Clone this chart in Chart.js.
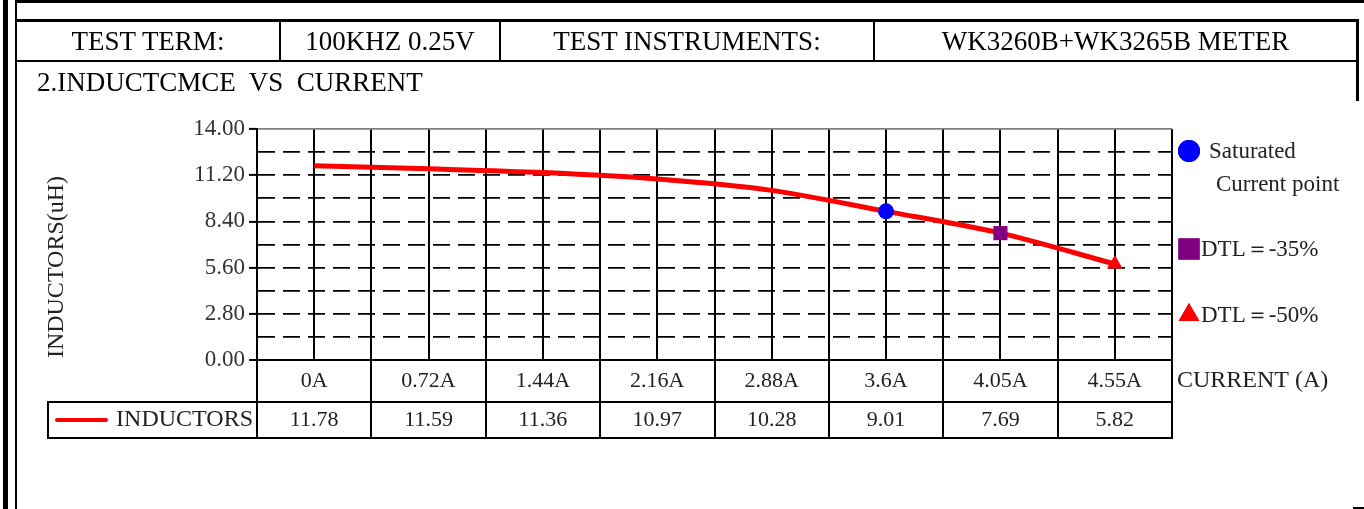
<!DOCTYPE html>
<html>
<head>
<meta charset="utf-8">
<script src="https://cdn.jsdelivr.net/npm/chart.js@4.4.0/dist/chart.umd.min.js"></script>
<style>
body { margin: 0; background: #fff; width: 1364px; height: 509px; overflow: hidden; position: relative; font-family: 'Liberation Serif', 'Times New Roman', serif; color: #000; }
#chart { position: absolute; left: 0; top: 0; }
.bar { position: absolute; background: #000; }
.cell { position: absolute; top: 22px; height: 38px; line-height: 38px; text-align: center; font-size: 27px; white-space: nowrap; }
.title { position: absolute; left: 37px; top: 65px; font-size: 27px; line-height: 34px; white-space: pre; }
</style>
</head>
<body>
<canvas id="chart" width="1364" height="509"></canvas>

<!-- page frame -->
<div class="bar" style="left:3px;top:0;width:5px;height:509px"></div>
<div class="bar" style="left:15px;top:0;width:2px;height:509px"></div>
<div class="bar" style="left:15px;top:0;width:1349px;height:3px"></div>
<div class="bar" style="left:15px;top:19px;width:1344px;height:3px"></div>
<div class="bar" style="left:15px;top:60px;width:1344px;height:2px"></div>
<div class="bar" style="left:1356px;top:19px;width:3px;height:82px"></div>
<div class="bar" style="left:279px;top:19px;width:2px;height:43px"></div>
<div class="bar" style="left:499px;top:19px;width:2px;height:43px"></div>
<div class="bar" style="left:873px;top:19px;width:2px;height:43px"></div>
<div class="bar" style="left:1353px;top:507px;width:11px;height:2px"></div>

<div class="cell" style="left:17px;width:262px">TEST TERM:</div>
<div class="cell" style="left:281px;width:218px">100KHZ 0.25V</div>
<div class="cell" style="left:501px;width:372px">TEST INSTRUMENTS:</div>
<div class="cell" style="left:875px;width:481px">WK3260B+WK3265B METER</div>
<div class="title">2.INDUCTCMCE  VS  CURRENT</div>

<script>
// chart data
const categories = ['0A', '0.72A', '1.44A', '2.16A', '2.88A', '3.6A', '4.05A', '4.55A'];
const inductance = [11.78, 11.59, 11.36, 10.97, 10.28, 9.01, 7.69, 5.82];
const yMin = 0;
const yMax = 14;
const yStep = 1.4;
const markerNames = ['Saturated', 'DTL＝-35%', 'DTL＝-50%'];
const markerAt = ['3.6A', '4.05A', '4.55A'];

const FONT = "'Liberation Serif', 'Times New Roman', serif";
const markerStyles = [
    { pointStyle: 'circle', radius: 8, color: '#0000ff' },
    { pointStyle: 'rect', radius: 10, color: '#800080' },
    { pointStyle: 'triangle', radius: 9, color: '#ff0000' }
];

function markerData(k) {
    return categories.map((c, i) => (c === markerAt[k] ? inductance[i] : null));
}

// table under the plot, axis titles and the side legend
const extrasPlugin = {
    id: 'extras',
    afterDraw(chart) {
        const ctx = chart.ctx;
        const area = chart.chartArea;
        const xScale = chart.scales.x;
        const colW = (area.right - area.left) / categories.length;
        const rowTop = 402, rowBottom = 438;

        ctx.save();
        ctx.strokeStyle = '#000';
        ctx.lineWidth = 2;
        ctx.beginPath();
        for (let i = 0; i <= categories.length; i++) {
            const x = Math.round(area.left + i * colW);
            ctx.moveTo(x, area.bottom);
            ctx.lineTo(x, rowBottom);
        }
        ctx.moveTo(48, rowTop);
        ctx.lineTo(48, rowBottom);
        ctx.moveTo(47, rowTop);
        ctx.lineTo(area.right + 1, rowTop);
        ctx.moveTo(47, rowBottom);
        ctx.lineTo(area.right + 1, rowBottom);
        ctx.stroke();

        // value row
        ctx.fillStyle = '#222';
        ctx.font = '22px ' + FONT;
        ctx.textAlign = 'center';
        ctx.textBaseline = 'middle';
        inductance.forEach((v, i) => {
            ctx.fillText(v.toFixed(2), xScale.getPixelForValue(i), 420);
        });

        // series key
        ctx.strokeStyle = '#ff0000';
        ctx.lineWidth = 4;
        ctx.lineCap = 'round';
        ctx.beginPath();
        ctx.moveTo(57, 420);
        ctx.lineTo(106, 420);
        ctx.stroke();
        ctx.fillStyle = '#222';
        ctx.font = '24px ' + FONT;
        ctx.textAlign = 'right';
        ctx.fillText('INDUCTORS', 253, 420);

        // x axis name
        ctx.textAlign = 'left';
        ctx.fillText('CURRENT (A)', 1177, 381);

        // y axis name
        ctx.save();
        ctx.translate(57, 267);
        ctx.rotate(-Math.PI / 2);
        ctx.textAlign = 'center';
        ctx.fillText('INDUCTORS(uH)', 0, 0);
        ctx.restore();

        // side legend
        const keyPos = [[1189, 151], [1189, 249], [1189, 315]];
        const keySize = [11, 15, 12];
        markerStyles.forEach((m, k) => {
            ctx.fillStyle = m.color;
            Chart.helpers.drawPoint(ctx, {
                pointStyle: m.pointStyle,
                radius: keySize[k],
                rotation: 0,
                borderWidth: 0
            }, keyPos[k][0], keyPos[k][1]);
            ctx.fill();
        });
        ctx.fillStyle = '#222';
        ctx.font = '23px ' + FONT;
        ctx.textAlign = 'left';
        ctx.fillText(markerNames[0], 1209, 152);
        ctx.fillText('Current point', 1216, 185);
        ctx.fillText(markerNames[1], 1201, 250);
        ctx.fillText(markerNames[2], 1201, 316);
        ctx.restore();
    }
};

const datasets = [{
    label: 'INDUCTORS',
    data: inductance,
    borderColor: '#ff0000',
    backgroundColor: '#ff0000',
    borderWidth: 5,
    pointRadius: 0,
    tension: 0.3,
    order: 2
}];
markerStyles.forEach((m, k) => {
    datasets.push({
        label: markerNames[k],
        data: markerData(k),
        showLine: false,
        pointStyle: m.pointStyle,
        pointRadius: m.radius,
        pointBackgroundColor: m.color,
        pointBorderColor: m.color,
        pointBorderWidth: 0,
        order: 1
    });
});

new Chart(document.getElementById('chart'), {
    type: 'line',
    data: { labels: categories, datasets: datasets },
    options: {
        responsive: false,
        animation: false,
        layout: { padding: { top: 129, right: 192, left: 0, bottom: 0 } },
        plugins: {
            legend: { display: false },
            tooltip: { enabled: false }
        },
        scales: {
            x: {
                offset: true,
                grid: {
                    offset: true,
                    drawTicks: false,
                    lineWidth: 2,
                    color: (c) => (c.index >= categories.length ? '#808080' : '#000')
                },
                border: { color: '#000', width: 2 },
                ticks: {
                    padding: 8,
                    color: '#222',
                    font: { family: FONT, size: 22 }
                },
                afterFit: (scale) => { scale.height = 149; }
            },
            x2: {
                type: 'category',
                labels: categories,
                position: 'top',
                offset: true,
                grid: { offset: false, drawTicks: false, lineWidth: 2, color: '#000' },
                border: { display: false },
                ticks: { display: false },
                afterFit: (scale) => { scale.height = 0; }
            },
            y: {
                min: yMin,
                max: yMax,
                grid: {
                    tickLength: 8,
                    lineWidth: (c) => (c.index === 0 ? 0 : 1.8),
                    color: (c) => (c.index === 10 ? '#808080' : '#000'),
                    tickColor: (c) => (c.index % 2 === 0 ? '#000' : 'rgba(0,0,0,0)'),
                    tickWidth: 2
                },
                border: {
                    color: '#000',
                    width: 2,
                    dash: (c) => (c.index === 10 ? [] : [17, 8])
                },
                ticks: {
                    stepSize: yStep,
                    autoSkip: false,
                    padding: 4,
                    color: '#333',
                    font: { family: FONT, size: 23 },
                    callback: (v, i) => (i % 2 === 0 ? Number(v).toFixed(2) : '')
                },
                afterFit: (scale) => { scale.width = 257; }
            }
        }
    },
    plugins: [extrasPlugin]
});
</script>
</body>
</html>
